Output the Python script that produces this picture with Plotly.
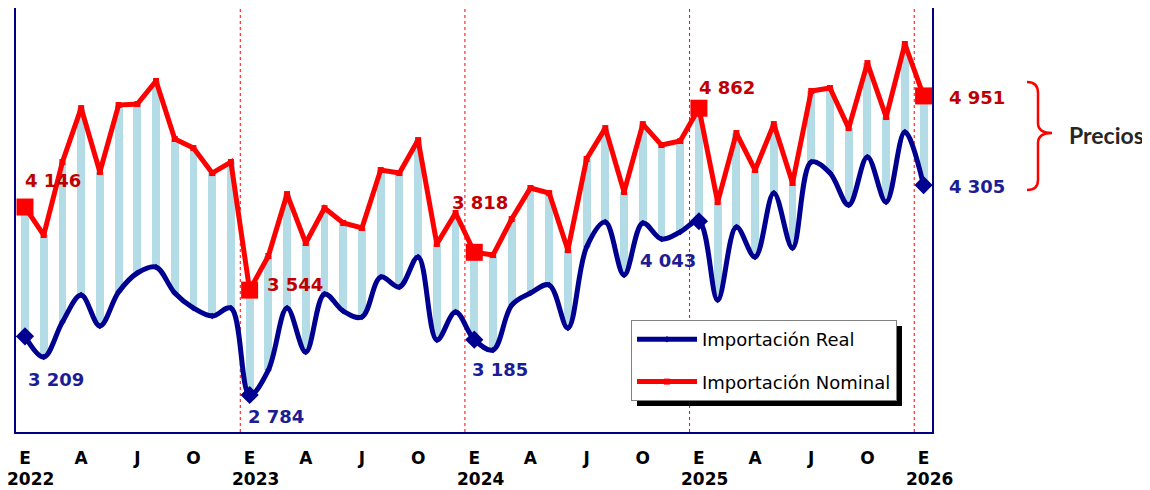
import plotly.graph_objects as go

# ---------------- data ----------------
month_letters = ["E", "F", "M", "A", "M", "J", "J", "A", "S", "O", "N", "D"]
years = [2022, 2023, 2024, 2025, 2026]

nominal = [4146, 3943, 4472, 4863, 4400, 4885, 4892, 5059, 4639, 4573, 4392, 4472,
           3544, 3791, 4240, 3885, 4138, 4030, 3994, 4414, 4392, 4631, 3878, 4103,
           3818, 3798, 4059, 4284, 4247, 3834, 4494, 4718, 4255, 4747, 4595, 4624,
           4862, 4182, 4682, 4414, 4747, 4320, 4987, 5008, 4718, 5189, 4798, 5327,
           4951]
real = [3209, 3059, 3313, 3508, 3284, 3530, 3668, 3711, 3523, 3414, 3356, 3414,
        2784, 2965, 3414, 3095, 3516, 3392, 3349, 3639, 3566, 3784, 3182, 3385,
        3185, 3110, 3436, 3523, 3581, 3269, 3856, 4037, 3653, 4030, 3914, 3965,
        4043, 3472, 4001, 3784, 4247, 3849, 4472, 4392, 4160, 4508, 4182, 4689,
        4305]

# labelled points: (index, x-shift px, y-shift px)
nominal_labels = [(0, 28, 27), (12, 45, 6), (24, 6, 50), (36, 28, 21), (48, 53, -2)]
real_labels = [(0, 31, -43), (12, 26, -21), (24, 26, -30), (36, -31, -39), (48, 53, -1)]

# ---------------- derived ----------------
n = len(nominal)
x = list(range(n))
month_of = [month_letters[i % 12] for i in x]
year_of = [years[0] + i // 12 for i in x]
jan_idx = [i for i in x if i % 12 == 0]

tickvals = [i for i in x if i % 3 == 0]
ticktext = [month_of[i] for i in tickvals]

BLUE = "#000090"
RED = "#FF0000"
DARKRED = "#C00000"
LBLUE = "#1C1C94"
BAR = "#B4DCE7"
FONT_B = "DejaVu Sans"


def fmt(v):
    return f"{v:,}".replace(",", " ")


fig = go.Figure()

fig.add_trace(go.Bar(
    x=x, base=real, y=[a - b for a, b in zip(nominal, real)],
    width=0.42, marker=dict(color=BAR, line=dict(width=0)),
    showlegend=False, hoverinfo="skip"))

fig.add_trace(go.Scatter(
    x=x, y=real, mode="lines+markers", name="Importación Real",
    line=dict(color=BLUE, width=5, shape="spline", smoothing=1.0),
    marker=dict(symbol="diamond", size=5, color=BLUE),
    legendgroup="r"))

fig.add_trace(go.Scatter(
    x=x, y=nominal, mode="lines+markers", name="Importación Nominal",
    line=dict(color=RED, width=5),
    marker=dict(symbol="square", size=6, color=RED),
    legendgroup="n"))

fig.add_trace(go.Scatter(
    x=jan_idx, y=[real[i] for i in jan_idx], mode="markers",
    marker=dict(symbol="diamond", size=14, color=BLUE),
    showlegend=False, hoverinfo="skip"))
fig.add_trace(go.Scatter(
    x=jan_idx, y=[nominal[i] for i in jan_idx], mode="markers",
    marker=dict(symbol="square", size=17, color=RED),
    showlegend=False, hoverinfo="skip"))

annotations = []
for i, dx, dy in nominal_labels:
    annotations.append(dict(x=i, y=nominal[i], xref="x", yref="y", text=fmt(nominal[i]),
                            showarrow=False, xshift=dx, yshift=dy, xanchor="center",
                            font=dict(family=FONT_B, size=18, color=DARKRED, weight="bold")))
for i, dx, dy in real_labels:
    annotations.append(dict(x=i, y=real[i], xref="x", yref="y", text=fmt(real[i]),
                            showarrow=False, xshift=dx, yshift=dy, xanchor="center",
                            font=dict(family=FONT_B, size=18, color=LBLUE, weight="bold")))

# The page body has an 8px margin, so the figure is drawn 8px in from the window edge.
OFF = 8
W, H = 1150 - OFF, 490 - OFF
# plot-area geometry in window pixels
L, R, T, B = 16, 932, 8, 432


def px(xp):
    return (xp - L) / (R - L)


def py(yp):
    return (B - yp) / (B - T)


# year labels under each January tick
for i in jan_idx:
    annotations.append(dict(x=i, y=py(479), xref="x", yref="paper", text=str(year_of[i]),
                            showarrow=False, xshift=6, xanchor="center", yanchor="middle",
                            font=dict(family=FONT_B, size=17, color="black", weight="bold")))

annotations.append(dict(x=px(1106), y=py(135), xref="paper", yref="paper", text="Precios",
                        showarrow=False, xanchor="center", yanchor="middle",
                        font=dict(family="Lato", size=23, color="#262626", weight="bold")))

shapes = []
for i in jan_idx[1:]:
    shapes.append(dict(type="line", x0=i - 0.5, x1=i - 0.5, xref="x", yref="paper",
                       y0=0, y1=1, line=dict(color=RED, width=1, dash="dot"), layer="below"))

brace_pts = [(1027, 82), (1038, 82), (1038, 93), (1038, 123), (1038, 133), (1052, 133),
             (1038, 133), (1038, 143), (1038, 180), (1038, 190), (1027, 190)]
bp = [(px(a), py(b)) for a, b in brace_pts]
path = (f"M {bp[0][0]},{bp[0][1]} Q {bp[1][0]},{bp[1][1]} {bp[2][0]},{bp[2][1]} "
        f"L {bp[3][0]},{bp[3][1]} Q {bp[4][0]},{bp[4][1]} {bp[5][0]},{bp[5][1]} "
        f"Q {bp[6][0]},{bp[6][1]} {bp[7][0]},{bp[7][1]} "
        f"L {bp[8][0]},{bp[8][1]} Q {bp[9][0]},{bp[9][1]} {bp[10][0]},{bp[10][1]}")
shapes.append(dict(type="path", path=path, xref="paper", yref="paper",
                   line=dict(color=RED, width=2.5)))

# legend shadow
shapes.append(dict(type="rect", xref="paper", yref="paper",
                   x0=px(637), x1=px(902), y0=py(406), y1=py(326),
                   fillcolor="black", line=dict(width=0), layer="above"))

fig.update_layout(
    width=W, height=H,
    margin=dict(l=L - OFF, r=W - (R - OFF), t=T - OFF, b=H - (B - OFF), autoexpand=False),
    plot_bgcolor="white", paper_bgcolor="white",
    bargap=0,
    showlegend=True,
    legend=dict(x=px(631), y=py(320), xanchor="left", yanchor="top",
                bgcolor="white", bordercolor="#808080", borderwidth=1,
                font=dict(family="DejaVu Sans", size=18, color="black"),
                itemwidth=60, tracegroupgap=16, traceorder="grouped"),
    xaxis=dict(range=[-0.48, 48.45], tickvals=tickvals, ticktext=ticktext,
               showgrid=False, zeroline=False, showline=True, mirror=True,
               linecolor="#000080", linewidth=2, ticks="", ticklabelstandoff=10,
               automargin=False, ticklabeloverflow="allow",
               tickfont=dict(family=FONT_B, size=17, color="black", weight="bold")),
    yaxis=dict(range=[2516, 5588], showgrid=False, zeroline=False, showline=True,
               mirror=True, linecolor="#000080", linewidth=2, showticklabels=False,
               ticks="", automargin=False),
    annotations=annotations,
    shapes=shapes,
)

fig.write_html("out.html")
